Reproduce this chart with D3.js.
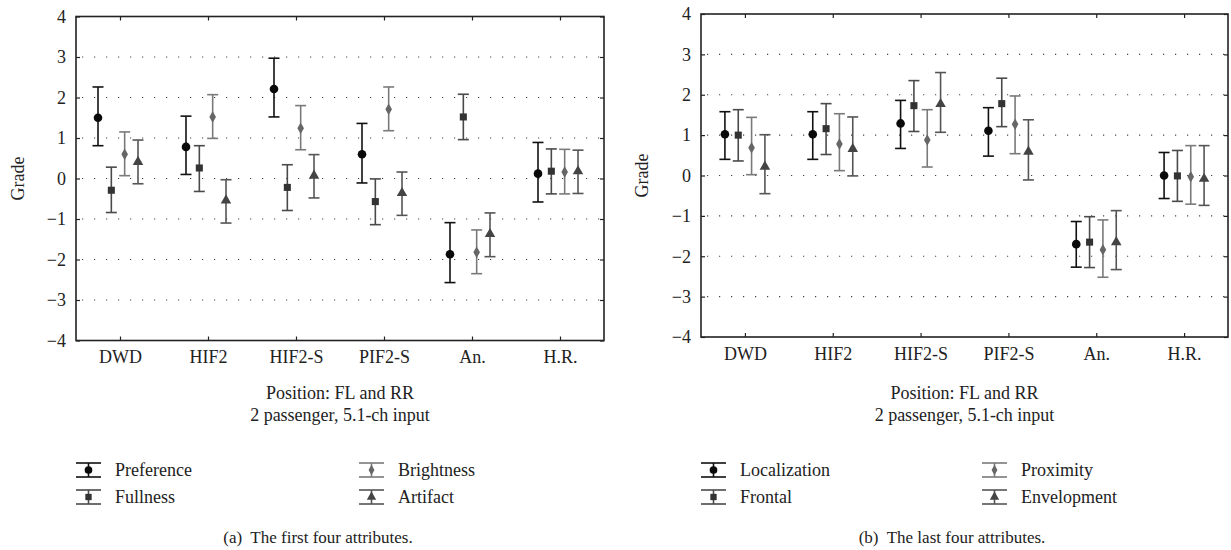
<!DOCTYPE html>
<html>
<head>
<meta charset="utf-8">
<script src="https://cdn.jsdelivr.net/npm/d3@7"></script>
<style>
  body { margin: 0; background: #fff; }
</style>
</head>
<body>
<svg id="chart" width="1231" height="550"></svg>
<script>
// categories and ticks
var categories = ["DWD", "HIF2", "HIF2-S", "PIF2-S", "An.", "H.R."];
var yTicks = [-4, -3, -2, -1, 0, 1, 2, 3, 4];
var gridTicks = [-3, -2, -1, 0, 1, 2, 3];

// panel (a)
var seriesA = ["Preference", "Fullness", "Brightness", "Artifact"];
var meanA = [
    [1.50, 0.78, 2.21, 0.60, -1.87, 0.12],
    [-0.29, 0.26, -0.22, -0.57, 1.52, 0.18],
    [0.60, 1.52, 1.24, 1.71, -1.82, 0.16],
    [0.41, -0.54, 0.07, -0.36, -1.37, 0.18]
];
var highA = [
    [2.26, 1.54, 2.97, 1.36, -1.09, 0.89],
    [0.28, 0.81, 0.34, -0.01, 2.08, 0.73],
    [1.15, 2.07, 1.80, 2.26, -1.27, 0.72],
    [0.95, -0.03, 0.59, 0.16, -0.85, 0.70]
];
var lowA = [
    [0.81, 0.10, 1.52, -0.11, -2.57, -0.58],
    [-0.84, -0.32, -0.79, -1.14, 0.96, -0.38],
    [0.07, 0.99, 0.71, 1.18, -2.35, -0.38],
    [-0.13, -1.10, -0.48, -0.91, -1.93, -0.37]
];

// panel (b)
var seriesB = ["Localization", "Frontal", "Proximity", "Envelopment"];
var meanB = [
    [1.02, 1.02, 1.29, 1.11, -1.70, 0.00],
    [1.00, 1.16, 1.73, 1.78, -1.65, -0.01],
    [0.69, 0.78, 0.88, 1.27, -1.84, -0.03],
    [0.22, 0.66, 1.77, 0.59, -1.65, -0.08]
];
var highB = [
    [1.58, 1.58, 1.86, 1.68, -1.14, 0.57],
    [1.63, 1.78, 2.35, 2.41, -1.02, 0.62],
    [1.44, 1.53, 1.63, 1.97, -1.10, 0.74],
    [1.01, 1.45, 2.55, 1.38, -0.87, 0.74]
];
var lowB = [
    [0.40, 0.40, 0.67, 0.48, -2.27, -0.57],
    [0.36, 0.52, 1.09, 1.21, -2.28, -0.64],
    [0.02, 0.12, 0.21, 0.54, -2.52, -0.71],
    [-0.45, -0.01, 1.07, -0.11, -2.33, -0.74]
];

var barColors = ["#111", "#4a4a4a", "#7a7a7a", "#555"];
var markColors = ["#0a0a0a", "#333", "#666", "#444"];
var markTypes = [d3.symbolCircle, d3.symbolSquare, d3.symbolDiamond, d3.symbolTriangle];
var markSizes = [58, 50, 38, 48];

var SERIF = "Liberation Serif, Times New Roman, Times, DejaVu Serif, serif";

var svg = d3.select("#chart").attr("font-family", SERIF);

function drawPanel(opt){
    var g = svg.append("g");
    var x = d3.scalePoint().domain(categories).range([opt.x0, opt.x1]).padding(0.5);
    var y = d3.scaleLinear().domain([-4, 4]).range([opt.y1, opt.y0]);
    var sub = d3.scalePoint().domain(opt.series).range([-20, 20]);

    // dotted grid
    g.selectAll(".grid")
        .data(gridTicks)
        .enter().append("line")
        .attr("x1", opt.x0 + 6).attr("x2", opt.x1)
        .attr("y1", function(d){ return y(d) }).attr("y2", function(d){ return y(d) })
        .attr("stroke", "#444").attr("stroke-width", 1.2)
        .attr("stroke-dasharray", "1.2,10.8");

    // axes
    var left = g.append("g").attr("transform", "translate(" + opt.x0 + ",0)")
        .call(d3.axisLeft(y).tickValues(yTicks).tickSize(-4).tickPadding(10));
    var right = g.append("g").attr("transform", "translate(" + opt.x1 + ",0)")
        .call(d3.axisRight(y).tickValues(yTicks).tickSize(-4).tickFormat(""));
    var bottom = g.append("g").attr("transform", "translate(0," + opt.y1 + ")")
        .call(d3.axisBottom(x).tickSize(-4).tickPadding(10));
    var top = g.append("g").attr("transform", "translate(0," + opt.y0 + ")")
        .call(d3.axisTop(x).tickSize(-4).tickFormat(""));
    [left, right, bottom, top].forEach(function(a){
        a.attr("font-family", SERIF).attr("font-size", 18);
        a.select(".domain").remove();
        a.selectAll("line").attr("stroke", "#222").attr("stroke-width", 1.2);
        a.selectAll("text").attr("fill", "#222");
    });

    g.append("rect")
        .attr("x", opt.x0).attr("y", opt.y0)
        .attr("width", opt.x1 - opt.x0).attr("height", opt.y1 - opt.y0)
        .attr("fill", "none").attr("stroke", "#222").attr("stroke-width", 1.6);

    // error bars and markers
    opt.series.forEach(function(s, si){
        var pts = categories.map(function(c, ci){
            return {cx: x(c) + sub(s) + opt.shift, m: opt.mean[si][ci], lo: opt.low[si][ci], hi: opt.high[si][ci]};
        });
        var sg = g.append("g");
        sg.selectAll(".bar").data(pts).enter().append("line")
            .attr("x1", function(d){ return d.cx }).attr("x2", function(d){ return d.cx })
            .attr("y1", function(d){ return y(d.lo) }).attr("y2", function(d){ return y(d.hi) })
            .attr("stroke", barColors[si]).attr("stroke-width", 1.6);
        ["lo", "hi"].forEach(function(k){
            sg.selectAll(".cap" + k).data(pts).enter().append("line")
                .attr("x1", function(d){ return d.cx - 5.5 }).attr("x2", function(d){ return d.cx + 5.5 })
                .attr("y1", function(d){ return y(d[k]) }).attr("y2", function(d){ return y(d[k]) })
                .attr("stroke", barColors[si]).attr("stroke-width", 1.6);
        });
        sg.selectAll(".dot").data(pts).enter().append("path")
            .attr("d", d3.symbol().type(markTypes[si]).size(markSizes[si]))
            .attr("transform", function(d){ return "translate(" + d.cx + "," + y(d.m) + ")" })
            .attr("fill", markColors[si]);
    });

    // axis titles
    g.append("text")
        .attr("transform", "translate(" + opt.gradeX + "," + ((opt.y0 + opt.y1) / 2) + ") rotate(-90)")
        .attr("text-anchor", "middle").attr("font-size", 18).attr("fill", "#222")
        .text("Grade");
    var cx = (opt.x0 + opt.x1) / 2;
    g.append("text").attr("x", cx).attr("y", 399).attr("text-anchor", "middle").attr("font-size", 18).attr("fill", "#222")
        .text("Position: FL and RR");
    g.append("text").attr("x", cx).attr("y", 421).attr("text-anchor", "middle").attr("font-size", 18).attr("fill", "#222")
        .text("2 passenger, 5.1-ch input");

    // legend
    var legPos = [[0, 0], [0, 1], [1, 0], [1, 1]];
    opt.series.forEach(function(s, si){
        var lx = opt.legX[legPos[si][0]], ly = 470 + legPos[si][1] * 27;
        var lg = g.append("g").attr("transform", "translate(" + lx + "," + ly + ")");
        lg.append("line").attr("x1", 0).attr("x2", 25).attr("y1", -7).attr("y2", -7)
            .attr("stroke", barColors[si]).attr("stroke-width", 1.6);
        lg.append("line").attr("x1", 0).attr("x2", 25).attr("y1", 7).attr("y2", 7)
            .attr("stroke", barColors[si]).attr("stroke-width", 1.6);
        lg.append("line").attr("x1", 12.5).attr("x2", 12.5).attr("y1", -7).attr("y2", 7)
            .attr("stroke", barColors[si]).attr("stroke-width", 1.6);
        lg.append("path").attr("d", d3.symbol().type(markTypes[si]).size(markSizes[si] * 0.8))
            .attr("transform", "translate(12.5,0)").attr("fill", markColors[si]);
        lg.append("text").attr("x", 39).attr("y", 6).attr("font-size", 18).attr("fill", "#222").text(s);
    });

    g.append("text").attr("x", opt.capX).attr("y", 543).attr("text-anchor", "middle").attr("font-size", 17)
        .attr("fill", "#222").attr("xml:space", "preserve")
        .text(opt.caption);
}

drawPanel({x0: 76, x1: 604, y0: 16.5, y1: 340.5, shift: -2, gradeX: 24,
    series: seriesA, mean: meanA, low: lowA, high: highA,
    legX: [76, 359], capX: 318, caption: "(a)  The first four attributes."});
drawPanel({x0: 701, x1: 1228, y0: 14, y1: 337, shift: 0, gradeX: 648,
    series: seriesB, mean: meanB, low: lowB, high: highB,
    legX: [701, 982], capX: 952, caption: "(b)  The last four attributes."});
</script>
</body>
</html>
